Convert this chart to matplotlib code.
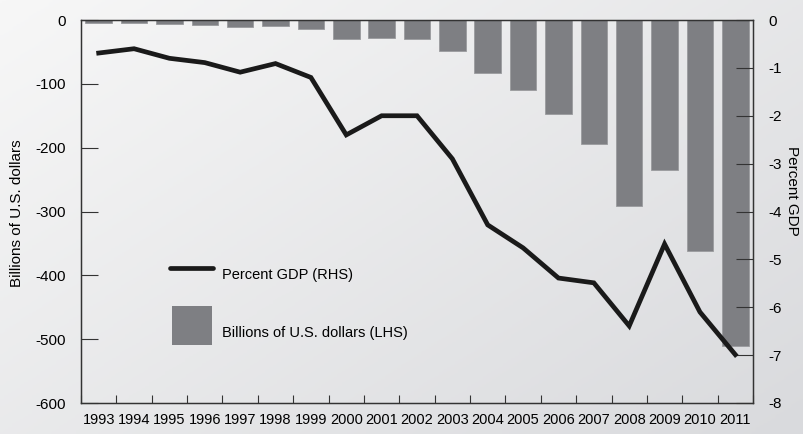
import numpy as np
import matplotlib
matplotlib.use("Agg")
import matplotlib.pyplot as plt
from matplotlib.lines import Line2D
from matplotlib.patches import Rectangle

years = list(range(1993, 2012))
billions = [-4, -4, -6, -8, -11, -9, -14, -29, -28, -30, -48, -83, -109, -147,
            -194, -292, -235, -362, -510]
pct_gdp = [-0.69, -0.6, -0.8, -0.89, -1.09, -0.91, -1.2, -2.4, -2.0, -2.0, -2.9,
           -4.28, -4.76, -5.39, -5.49, -6.39, -4.68, -6.1, -6.99]

plt.rcParams['font.family'] = ['Liberation Sans', 'DejaVu Sans']
plt.rcParams['font.size'] = 11
plt.rcParams['axes.unicode_minus'] = False

fig = plt.figure(figsize=(8.04, 4.34), dpi=100)

# gradient background
bg = fig.add_axes([0, 0, 1, 1], zorder=-10)
xx, yy = np.meshgrid(np.linspace(0, 1, 200), np.linspace(0, 1, 200))
grad = 0.55 * xx + 0.45 * yy
bg.imshow(grad, cmap=matplotlib.colors.LinearSegmentedColormap.from_list(
    'bg', ['#f7f7f7', '#d9dadd']), aspect='auto', extent=[0, 1, 0, 1])
bg.axis('off')

ax = fig.add_axes([81 / 804, 31 / 434, 672 / 804, 383 / 434])
ax.patch.set_alpha(0)
x = np.arange(len(years))
ax.bar(x, billions, width=0.75, color='#7e7f83', edgecolor='#9a9b9e', linewidth=0.6)
ax.set_xlim(-0.5, len(years) - 0.5)
ax.set_ylim(-600, 0)
ax.set_yticks(range(-600, 1, 100))
ax.set_xticks(np.arange(-0.5, len(years), 1.0))
ax.set_xticklabels([])
ax.set_xticks(x, minor=True)
ax.set_xticklabels([str(y) for y in years], minor=True, fontsize=10.5)
ax.tick_params(axis='x', which='minor', length=0, pad=7)
ax.tick_params(axis='x', which='major', direction='in', length=6, color='#333333')
ax.tick_params(axis='y', direction='in', length=12, color='#333333', pad=11)
for s in ax.spines.values():
    s.set_color('#333333')
    s.set_linewidth(1.0)
fig.text(17 / 804, 1 - 213 / 434, 'Billions of U.S. dollars', rotation=90,
         ha='center', va='center')

ax2 = ax.twinx()
ax2.plot(x, pct_gdp, color='#1a1a1a', linewidth=3.4, solid_joinstyle='miter')
ax2.set_ylim(-8, 0)
ax2.set_yticks(range(-8, 1))
ax2.tick_params(axis='y', direction='in', length=12, color='#333333', pad=11)
for s in ax2.spines.values():
    s.set_color('#333333')
fig.text(0.994, 0.56, 'Percent GDP', rotation=270, ha='right', va='center')

# legend
fig.add_artist(Line2D([170 / 804, 213 / 804], [1 - 268 / 434, 1 - 268 / 434],
                      color='#1a1a1a', linewidth=3.4, solid_capstyle='round'))
fig.text(222 / 804, 1 - 275 / 434, 'Percent GDP (RHS)', va='center', fontsize=10.5)
fig.add_artist(Rectangle((172 / 804, 1 - 345 / 434), 40 / 804, 39 / 434,
                         facecolor='#7e7f83', edgecolor='none'))
fig.text(222 / 804, 1 - 333 / 434, 'Billions of U.S. dollars (LHS)', va='center',
         fontsize=10.5)

fig.savefig('out.png', dpi=100)
